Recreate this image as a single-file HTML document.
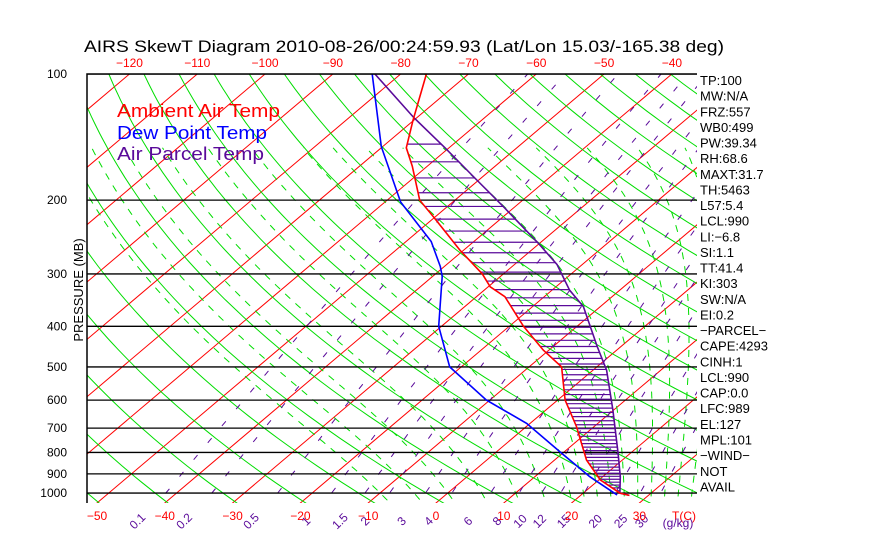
<!DOCTYPE html>
<html><head><meta charset="utf-8"><style>
html,body{margin:0;padding:0;background:#fff;}
svg{display:block;font-family:"Liberation Sans",sans-serif;}
</style></head><body>
<svg id="chart" width="870" height="560" viewBox="0 0 870 560" xmlns="http://www.w3.org/2000/svg">
<defs><clipPath id="plotclip"><rect x="87" y="74" width="610" height="429"/></clipPath></defs>
<text x="84" y="52" font-size="17" fill="#000" textLength="640" lengthAdjust="spacingAndGlyphs">AIRS SkewT Diagram 2010-08-26/00:24:59.93 (Lat/Lon 15.03/-165.38 deg)</text>
<text transform="translate(83,290) rotate(-90)" text-anchor="middle" font-size="13" fill="#000">PRESSURE (MB)</text>
<g id="grid" clip-path="url(#plotclip)"></g>
<g id="axes"></g>
<g font-size="18">
<text x="117" y="117" fill="#ff0000" textLength="163" lengthAdjust="spacingAndGlyphs">Ambient Air Temp</text>
<text x="117" y="139" fill="#0000ff" textLength="150" lengthAdjust="spacingAndGlyphs">Dew Point Temp</text>
<text x="117" y="160" fill="#5a0a9a" textLength="147" lengthAdjust="spacingAndGlyphs">Air Parcel Temp</text>
</g>
<g id="stats" font-size="13" fill="#000"></g>
</svg>
<script>
const pressureLevels=[100,200,300,400,500,600,700,800,900,1000];
const bottomTicks=[-50,-40,-30,-20,-10,0,10,20,30];
const topTicks=[-120,-110,-100,-90,-80,-70,-60,-50,-40];
const isotherms=[-160,-150,-140,-130,-120,-110,-100,-90,-80,-70,-60,-50,-40,-30,-20,-10,0,10,20,30,40,50];
const dryThetas=[220,230,240,250,260,270,280,290,300,310,320,330,340,350,360,370,380,390,400,410,420,430,440,450,460,470,480,490,500];
const moistStarts=[-10,-5,0,5,10,14,18,20,22,24,26,28,30,32,34,36,38,40];
const mixRatios=[0.1,0.2,0.5,1,1.5,2,3,4,6,8,10,12,15,20,25,30];
const mixLabels=["0.1","0.2","0.5","1","1.5","2","3","4","6","8","10","12","15","20","25","30"];
const tempP=[100,129,150,166,200,219,263,300,322,340,400,456,500,600,694,834,930,1000,1013];
const tempT=[-76.2,-70.1,-66.3,-62.2,-55.2,-50.3,-40.6,-33.1,-29.7,-25.8,-17.9,-10.8,-5.2,1.1,7.4,14.7,20.2,25.4,27.2];
const dewP=[100,149,202,251,288,304,400,500,600,682,804,914,1010];
const dewT=[-84.2,-70.2,-57.7,-46.3,-40.6,-38.6,-30.4,-21.7,-10.5,-0.5,9.9,18.1,25.3];
const parcelP=[100,127,150,179,207,253,285,328,359,447,509,634,804,914,1000,1013];
const parcelT=[-83.8,-70.5,-60.6,-50.3,-41.8,-30.3,-23.7,-17.4,-12.5,-3.5,2.0,9.9,18.2,22.6,25.4,27.2];
const statLabels=["TP:100","MW:N/A","FRZ:557","WB0:499","PW:39.34","RH:68.6","MAXT:31.7","TH:5463","L57:5.4","LCL:990","LI:\u22126.8","SI:1.1","TT:41.4","KI:303","SW:N/A","EI:0.2","\u2212PARCEL\u2212","CAPE:4293","CINH:1","LCL:990","CAP:0.0","LFC:989","EL:127","MPL:101","\u2212WIND\u2212","NOT","AVAIL"];

const NS="http://www.w3.org/2000/svg";
const Y0=74,K=182,YB=503,X0=436,SC=6.78,SK=1.182;
function yOf(p){return Y0+K*Math.log(p/100);}
function pOf(y){return 100*Math.exp((y-Y0)/K);}
function xOf(T,p){return X0+SC*T+SK*(YB-yOf(p));}
function mk(tag,attrs,parent){const e=document.createElementNS(NS,tag);for(const k in attrs)e.setAttribute(k,attrs[k]);parent.appendChild(e);return e;}
const grid=document.getElementById('grid'),axes=document.getElementById('axes'),stats=document.getElementById('stats');
function poly(pts){return pts.map(q=>q[0].toFixed(1)+','+q[1].toFixed(1)).join(' ');}
const pSamples=[];for(let p=1100;p>=95;p*=0.97)pSamples.push(p);

isotherms.forEach(T=>{const l=mk('line',{x1:xOf(T,1100),y1:yOf(1100),x2:xOf(T,95),y2:yOf(95),stroke:'#ff0000','stroke-width':1},grid);
});
dryThetas.forEach(th=>{const pts=pSamples.map(p=>[xOf(th*Math.pow(p/1000,0.286)-273.15,p),yOf(p)]);
const e=mk('polyline',{points:poly(pts),fill:'none',stroke:'#00dd00','stroke-width':1},grid);
});
function es(Tc){return 6.112*Math.exp(17.67*Tc/(Tc+243.5));}
function dTdp(Tk,p){const rs=0.622*es(Tk-273.15)/(p-es(Tk-273.15));return (287*Tk+2.5e6*rs)/(p*(1004+2.5e6*2.5e6*rs*0.622/(287*Tk*Tk)));}
moistStarts.forEach(t0=>{const pts=[];let Td=t0+273.15;for(let q=1000;q<1100;q+=5){Td+=dTdp(Td,q)*5;}
let cur=Td;for(let q=1100;q>=150;q-=5){pts.push([xOf(cur-273.15,q),yOf(q)]);cur-=dTdp(cur,q)*5;}
const e=mk('polyline',{points:poly(pts),fill:'none',stroke:'#00dd00','stroke-width':1,'stroke-dasharray':'7,7'},grid);
});
function tMix(w,p){const e=(w/1000)*p/(0.622+w/1000);const L=Math.log(e/6.112);return 243.5*L/(17.67-L);}
mixRatios.forEach((w,i)=>{const pts=[];for(let p=1100;p>=95;p*=0.98)pts.push([xOf(tMix(w,p),p),yOf(p)]);
const e=mk('polyline',{points:poly(pts),fill:'none',stroke:'#5a0a9a','stroke-width':1,'stroke-dasharray':'6,16'},grid);

const pl=pOf(524);const lx=xOf(tMix(w,pl),pl);const t=mk('text',{x:lx,y:524,'font-size':12,fill:'#5a0a9a','text-anchor':'middle',transform:`rotate(-45 ${lx} 524)`},axes);
t.textContent=mixLabels[i];});
pressureLevels.forEach(p=>{const y=yOf(p);const l=mk('line',{x1:87,y1:y,x2:697,y2:y,stroke:'#000','stroke-width':1.3},grid);

const t=mk('text',{x:67,y:y+4,'font-size':12,fill:'#000','text-anchor':'end'},axes);t.textContent=p;
});
function interp(P,T,p){const lp=Math.log(p);for(let i=0;i<P.length-1;i++){const a=Math.log(P[i]),b=Math.log(P[i+1]);if(lp>=a&&lp<=b)return T[i]+(T[i+1]-T[i])*(lp-a)/(b-a);}return null;}
for(let p=147;p<=1005;p+=15){const y=yOf(p);const ta=interp(tempP,tempT,p),tp=interp(parcelP,parcelT,p);
if(ta!==null&&tp!==null&&tp>ta){const l=mk('line',{x1:xOf(ta,p),y1:y,x2:xOf(tp,p),y2:y,stroke:'#5a0a9a','stroke-width':1.2},grid);
}}
function series(P,T,col,name){const e=mk('polyline',{points:poly(P.map((p,i)=>[xOf(T[i],p),yOf(p)])),fill:'none',stroke:col,'stroke-width':1.6},grid);
}
series(parcelP,parcelT,'#5a0a9a','parcel-temp-line');
series(dewP,dewT,'#0000ff','dew-point-line');
series(tempP,tempT,'#ff0000','ambient-temp-line');
const fr=mk('path',{d:'M87,503 L87,74 L697,74',fill:'none',stroke:'#000','stroke-width':1.5},axes);

bottomTicks.forEach(T=>{const t=mk('text',{x:xOf(T,pOf(YB)),y:520,'font-size':12,fill:'#ff0000','text-anchor':'middle'},axes);
t.textContent=T<0?'\u2212'+(-T):T;});
const tc=mk('text',{x:684,y:520,'font-size':12,fill:'#ff0000','text-anchor':'middle'},axes);tc.textContent='T(C)';

const gk=mk('text',{x:678,y:527,'font-size':12,fill:'#5a0a9a','text-anchor':'middle'},axes);gk.textContent='(g/kg)';

topTicks.forEach(T=>{const t=mk('text',{x:xOf(T,100),y:67,'font-size':12,fill:'#ff0000','text-anchor':'middle'},axes);
t.textContent='\u2212'+(-T);});
statLabels.forEach((s,i)=>{const t=mk('text',{x:700,y:85+i*15.63},stats);t.textContent=s;
});
</script>
</body></html>
